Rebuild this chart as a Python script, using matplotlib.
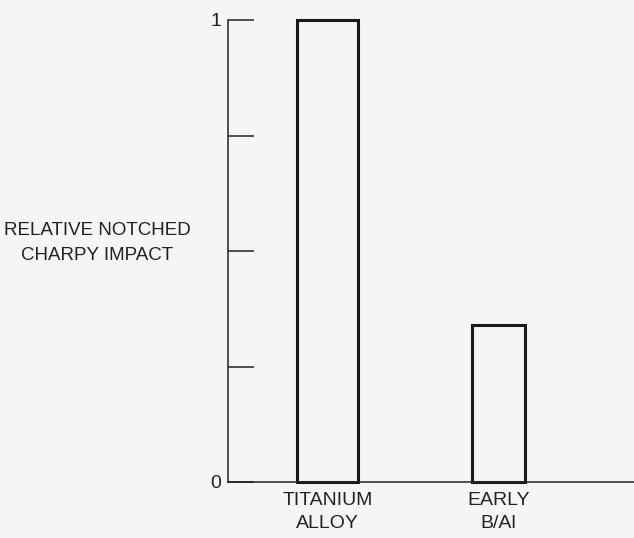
import matplotlib
matplotlib.use("Agg")
import matplotlib.pyplot as plt

categories = ["TITANIUM\nALLOY", "EARLY\nB/Al"]
values = [1.0, 0.34]
bar_widths = [0.357, 0.31]
yticks = [0, 0.25, 0.5, 0.75, 1.0]
ytick_labels = ["0", "", "", "", "1"]
ylabel = "RELATIVE NOTCHED\nCHARPY IMPACT"

plt.rcParams['font.family'] = ['Liberation Sans', 'DejaVu Sans']
bg = '#f5f5f3'
fig = plt.figure(figsize=(6.34, 5.38), dpi=100, facecolor=bg)
ax = fig.add_axes([228/634, 56/538, 406/634, (482-20)/538], facecolor=bg)

x = list(range(len(categories)))
ax.bar(x, values, width=bar_widths, facecolor='none', edgecolor='#1a1a1a',
       linewidth=2.2, clip_on=False)

ax.set_xlim(-0.582, 1.792)
ax.set_ylim(0, 1.0)
for s in ['top', 'right']:
    ax.spines[s].set_visible(False)
ax.spines['left'].set_linewidth(1.1)
ax.spines['bottom'].set_linewidth(1.1)
ax.spines['left'].set_color('#222222')
ax.spines['bottom'].set_color('#222222')

ax.set_yticks(yticks)
ax.set_yticklabels(ytick_labels, fontsize=14, color='#222222')
ax.tick_params(axis='y', direction='in', length=19, width=1.1, pad=5, color='#222222')
ax.set_xticks(x)
ax.set_xticklabels(categories, fontsize=14, color='#222222', linespacing=1.5)
ax.tick_params(axis='x', length=0, pad=7)

fig.text(97/634, 1 - 243/538, ylabel, ha='center', va='center', fontsize=13.5,
         color='#222222', linespacing=1.55)

fig.savefig('out.png', dpi=100, facecolor=bg)
